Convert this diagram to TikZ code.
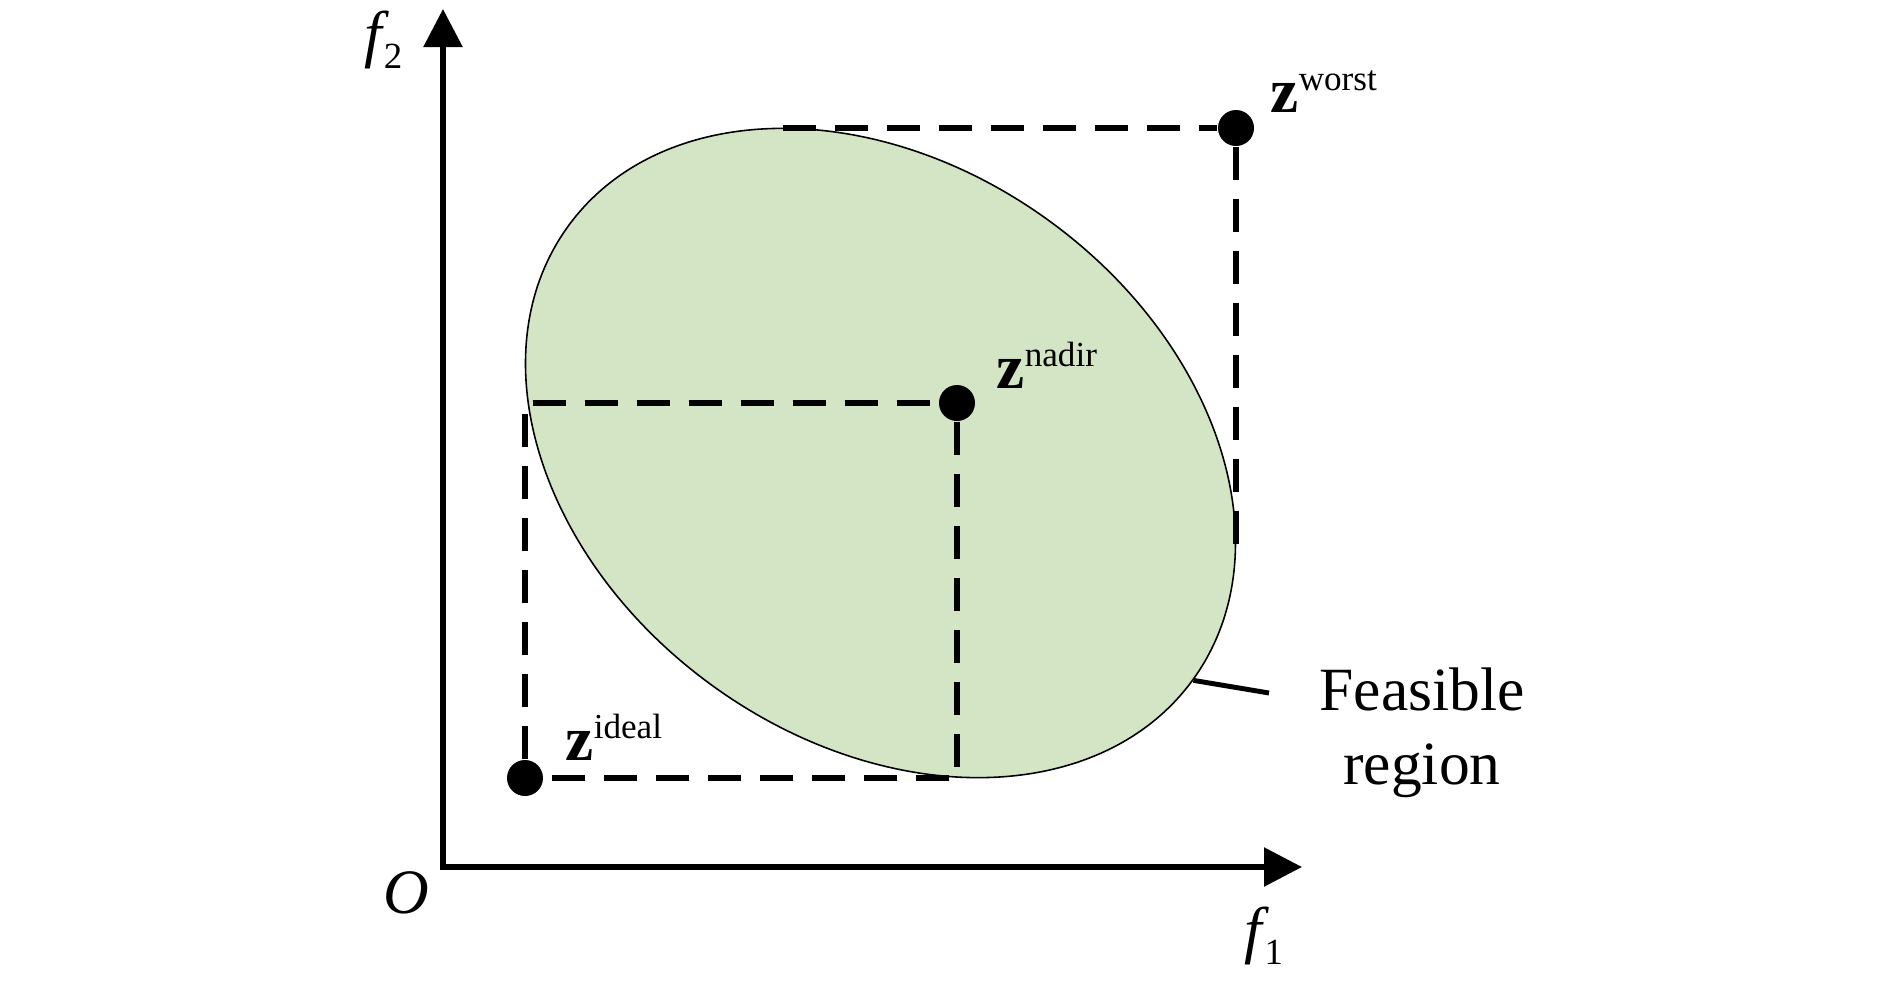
\documentclass[tikz,border=0pt]{standalone}
\usepackage{fontspec}
\setmainfont{Liberation Serif}
\usepackage{tikz}
\usetikzlibrary{positioning, arrows.meta, shapes.geometric}
\definecolor{feasgreen}{RGB}{211,229,197}

\newcommand{\zlab}[1]{\textbf{z}\raisebox{6.2pt}{\fontsize{10}{10}\selectfont #1}}
\newcommand{\fsub}[1]{\textit{f}\kern-1.5pt\raisebox{-3.7pt}{\fontsize{10.5}{10.5}\selectfont #1}}

\begin{document}
\begin{tikzpicture}[
    dot/.style={circle, fill=black, inner sep=0pt, minimum size=0.36cm},
    guide/.style={line width=1.7pt, dash pattern=on 0.33cm off 0.19cm},
    axis/.style={line width=1.6pt, {Triangle[length=0.38cm, width=0.38cm]}-{Triangle[length=0.38cm, width=0.38cm]}},
    lbl/.style={inner sep=0pt, font=\fontsize{18}{18}\selectfont}
]
    \useasboundingbox (-4.43, -1.16) rectangle (14.47, 8.67);

    \node[ellipse, draw=black, line width=0.45pt, fill=feasgreen, rotate=-36, minimum width=7.72cm, minimum height=5.74cm, inner sep=0pt] (region) at (4.375, 4.14) {};

    \coordinate (O) at (0, 0);
    \coordinate (xend) at (8.59, 0);
    \coordinate (yend) at (0, 8.58);
    \draw[axis] (yend) -- (O) -- (xend);

    \node[dot] (ideal) at (0.82, 0.89) {};
    \node[dot] (nadir) at (5.14, 4.64) {};
    \node[dot] (worst) at (7.93, 7.39) {};

    \coordinate (c1) at (0.82, 4.64);
    \coordinate (c2) at (5.14, 0.89);
    \coordinate (c3) at (3.40, 7.39);
    \coordinate (c4) at (7.93, 3.12);

    \draw[guide] (ideal) -- (c1) -- (nadir);
    \draw[guide] (nadir) -- (c2) -- (ideal);
    \draw[guide] (c3) -- (worst);
    \draw[guide] (worst) -- (c4);

    \node[lbl, anchor=base west] (zi) at (1.22, 1.07) {\zlab{ideal}};
    \node[lbl, anchor=base west] (zn) at (5.53, 4.79) {\zlab{nadir}};
    \node[lbl, anchor=base west] (zw) at (8.27, 7.55) {\zlab{worst}};

    \node[lbl, anchor=base east] (f2) at (-0.40, 8.12) {\fsub{2}};
    \node[lbl, anchor=base] (f1) at (8.21, -0.84) {\fsub{1}};
    \node[lbl, anchor=base] (olbl) at (-0.37, -0.46) {\textit{O}};

    \node[lbl, font=\fontsize{17.5}{20.8}\selectfont, align=center, anchor=base] (feas) at (9.79, 0.83) {Feasible\\region};
    \coordinate (ptr) at (8.26, 1.74);
    \draw[line width=1.4pt] (region.east) -- (ptr);
\end{tikzpicture}
\end{document}
